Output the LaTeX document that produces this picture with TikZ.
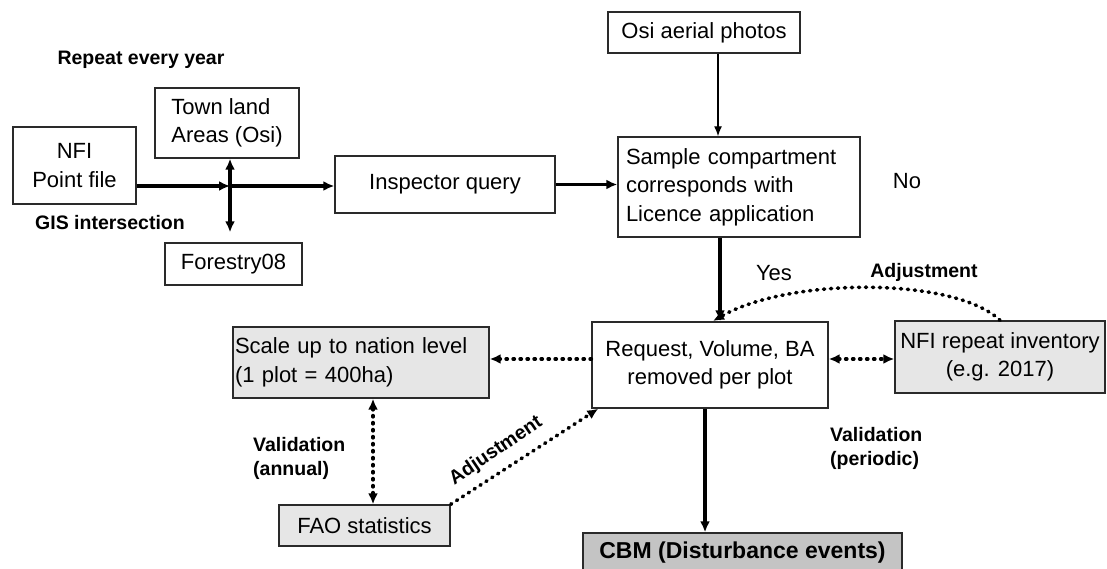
\documentclass[tikz,border=0pt]{standalone}
\usepackage{fontspec}
\setmainfont{Liberation Sans}
\usetikzlibrary{arrows.meta,calc}
\definecolor{boxline}{HTML}{2A2A2A}
\definecolor{lightfill}{HTML}{E6E6E6}
\definecolor{darkfill}{HTML}{C4C4C4}
\newcommand{\mainsize}{\fontsize{22}{28.5}\selectfont}
\newcommand{\labelsize}{\fontsize{19.5}{24}\selectfont\bfseries}
\tikzset{
  box/.style={draw=boxline, line width=1.4pt, inner sep=3pt, font=\mainsize, anchor=center},
  greybox/.style={box, fill=lightfill},
  note/.style={font=\labelsize, inner sep=0pt},
  tip/.style={-{Latex[length=11pt,width=10pt]}},
  flow/.style={line width=3.2pt, tip},
  flowboth/.style={line width=3.2pt, {Latex[length=11pt,width=10pt]}-{Latex[length=11pt,width=10pt]}},
  thinflow/.style={line width=1.4pt, -{Latex[length=10pt,width=8pt]}},
  dotline/.style={line width=3.6pt, line cap=round, dash pattern=on 1.2pt off 5.8pt},
  dots/.style={dotline, tip},
  dotsboth/.style={dotline, {Latex[length=11pt,width=10pt]}-{Latex[length=11pt,width=10pt]}}
}
\begin{document}
\begin{tikzpicture}[x=1pt,y=-1pt]
\useasboundingbox (0,0) rectangle (1107,569);

% boxes
\node[box, minimum width=123pt, minimum height=77pt, align=center] (nfi) at (74.5,165.5) {NFI\\Point file};
\node[box, minimum width=144pt, minimum height=70pt, align=left] (town) at (227,123) {Town land\\Areas (Osi)};
\node[box, minimum width=137pt, minimum height=42pt] (forestry) at (233.5,264) {Forestry08};
\node[box, minimum width=220pt, minimum height=57pt] (insp) at (445,184.5) {Inspector query};
\node[box, minimum width=192pt, minimum height=41pt] (osi) at (704,32.5) {Osi aerial photos};
\node[box, minimum width=242pt, minimum height=100pt, inner xsep=8pt, text width=226pt, align=left] (sample) at (739,187) {Sample compartment\\corresponds with\\Licence application};
\node[box, minimum width=236pt, minimum height=86pt, align=center] (req) at (710,365) {Request, Volume, BA\\removed per plot};
\node[greybox, minimum width=210pt, minimum height=72pt, align=center] (nfirep) at (1000,357) {NFI repeat inventory\\(e.g. 2017)};
\node[greybox, minimum width=256pt, minimum height=71pt, inner sep=1pt, align=left, text width=252pt] (scale) at (361,362.5) {Scale up to nation level\\(1 plot = 400ha)};
\node[greybox, minimum width=171pt, minimum height=41pt] (fao) at (364.5,525.5) {FAO statistics};
\node[box, fill=darkfill, minimum width=319pt, minimum height=44pt, font=\fontsize{23}{28}\selectfont\bfseries, text depth=10pt] (cbm) at (742.5,555) {CBM (Disturbance events)};

% free labels
\node[note] (repeat) at (141,60) {Repeat every year};
\node[note] (gis) at (110,223) {GIS intersection};
\node[font=\mainsize, inner sep=0pt] (no) at (907,181) {No};
\node[font=\mainsize, inner sep=0pt] (yes) at (774,273) {Yes};
\node[note] (adjtop) at (924,272) {Adjustment};
\node[note, anchor=west, align=left] (valper) at (830,448) {Validation\\(periodic)};
\node[note, anchor=west, align=left] (valann) at (253,458) {Validation\\(annual)};
\node[note, rotate=34] (adjdiag) at (496,451) {Adjustment};

% junction points
\coordinate (cross) at (230,186);
\coordinate (colA) at (718,0);
\coordinate (colB) at (720,0);
\coordinate (colC) at (705,0);
\coordinate (rowA) at (0,359);
\coordinate (colD) at (373,0);
\coordinate (adjend) at (713,321);

% GIS intersection step
\draw[flow] (nfi.east |- cross) -- (cross);
\draw[flow] (cross) -- (insp.west |- cross);
\draw[flowboth] (cross |- town.south) -- ($(cross |- forestry.north)+(0,-10)$);

% main chain
\draw[flow] (insp.east) -- (insp.east -| sample.west);
\draw[thinflow] (osi.south -| colA) -- (sample.north -| colA);
\draw[flow] (sample.south -| colB) -- (req.north -| colB);
\draw[flow] (req.south -| colC) -- (cbm.north -| colC);

% adjustments and validations
\draw[dots] (nfirep.north) .. controls (955,277) and (790,277) .. (adjend);
\draw[dotsboth] (req.east |- rowA) -- (nfirep.west |- rowA);
\draw[dots] (req.west |- rowA) -- (scale.east |- rowA);
\draw[dotsboth] (scale.south -| colD) -- (fao.north -| colD);
\draw[dots] (fao.north east) -- ($(req.south west)+(7,0)$);
\end{tikzpicture}
\end{document}
